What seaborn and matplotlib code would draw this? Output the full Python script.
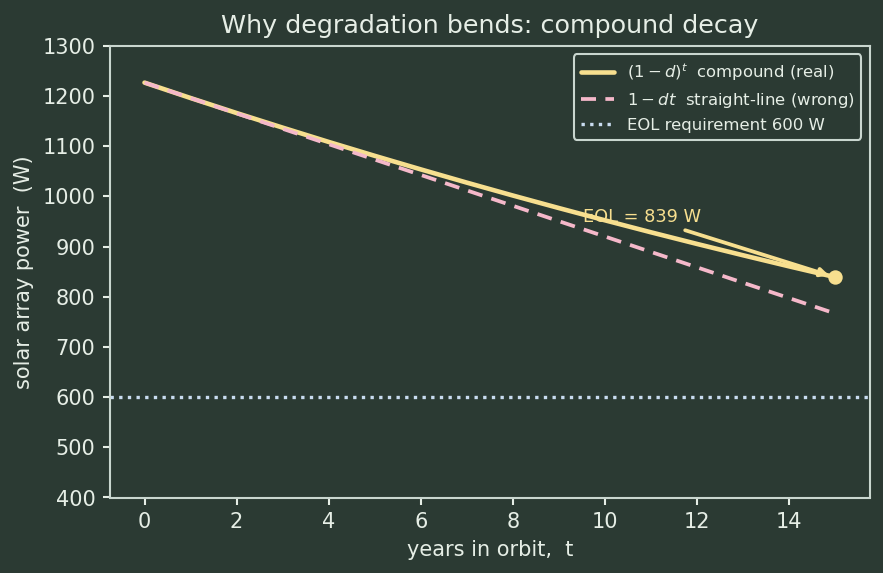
import numpy as np
import pandas as pd
import matplotlib
matplotlib.use("Agg")
import matplotlib.pyplot as plt
import seaborn as sns

years = [0, 1, 2, 3, 4, 5, 6, 7, 8, 9, 10, 11, 12, 13, 14, 15]
compound_w = [1227.0, 1196.3, 1166.4, 1137.3, 1108.8, 1081.1, 1054.1, 1027.7,
              1002.0, 977.0, 952.6, 928.7, 905.5, 882.9, 860.8, 839.3]
linear_w = [1227.0, 1196.3, 1165.7, 1135.0, 1104.3, 1073.6, 1043.0, 1012.3,
            981.6, 950.9, 920.3, 889.6, 858.9, 828.2, 797.6, 766.9]
eol_requirement = 600
eol_year = 15
eol_value = 839

BG = "#2b3a33"
FG = "#e6eee6"
SPINE = "#c9d6cf"
YELLOW = "#f7df8f"
PINK = "#f5b8ca"
BLUE = "#c9dcf0"

sns.set_theme(style="dark")
plt.rcParams.update({
    "figure.facecolor": BG, "axes.facecolor": BG,
    "axes.edgecolor": SPINE, "text.color": FG,
    "axes.labelcolor": FG, "xtick.color": FG, "ytick.color": FG,
    "axes.grid": False,
})
plt.rcParams["font.family"] = ["DejaVu Sans"]

df = pd.DataFrame({"t": years, "compound": compound_w, "linear": linear_w})

fig, ax = plt.subplots(figsize=(883 / 150, 573 / 150), dpi=150)
sns.lineplot(data=df, x="t", y="compound", ax=ax, color=YELLOW, lw=2.2,
             label=r"$(1-d)^t$  compound (real)")
sns.lineplot(data=df, x="t", y="linear", ax=ax, color=PINK, lw=1.8,
             linestyle=(0, (4, 2.5)), label=r"$1-dt$  straight-line (wrong)")
ax.axhline(eol_requirement, color=BLUE, lw=1.6, linestyle=(0, (1, 1.6)),
           label=f"EOL requirement {eol_requirement} W")
ax.scatter([eol_year], [eol_value], s=35, color=YELLOW, zorder=5)
ax.annotate(f"EOL = {eol_value} W", xy=(eol_year, eol_value),
            xytext=(10.8, 960), ha="center", va="center",
            color=YELLOW, fontsize=8.5,
            arrowprops=dict(arrowstyle="-|>", color=YELLOW, lw=1.8,
                            shrinkA=0, shrinkB=3, mutation_scale=8))

ax.set_ylim(400, 1300)
ax.set_xlim(-0.75, 15.75)
ax.set_xticks(range(0, 16, 2))
ax.set_yticks(range(400, 1301, 100))
ax.tick_params(axis="both", labelsize=10, length=3.5, width=1, colors=FG,
               bottom=True, left=True)
for s in ax.spines.values():
    s.set_color(SPINE)
    s.set_linewidth(1.0)
ax.set_xlabel("years in orbit,  t", fontsize=10)
ax.set_ylabel("solar array power  (W)", fontsize=10)
ax.set_title("Why degradation bends: compound decay", fontsize=12.2, color=FG)

leg = ax.legend(loc="upper right", fontsize=7.9, facecolor=BG, edgecolor=SPINE,
                framealpha=1.0, fancybox=True)
for txt in leg.get_texts():
    txt.set_color(FG)

fig.subplots_adjust(left=110 / 883, right=869.5 / 883, top=1 - 46 / 573,
                    bottom=1 - 497.5 / 573)
fig.savefig("out.png", dpi=150, facecolor=BG)
